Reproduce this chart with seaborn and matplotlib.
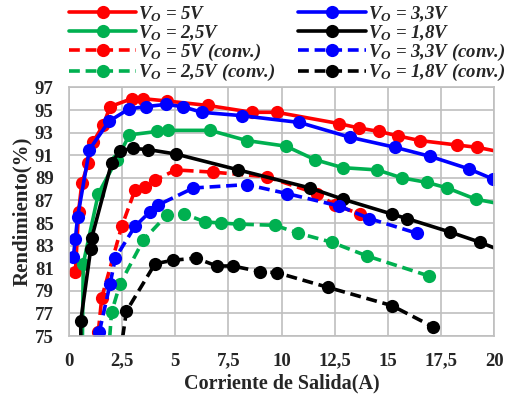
import matplotlib
matplotlib.use("Agg")
import matplotlib.pyplot as plt
from matplotlib.lines import Line2D
import seaborn as sns
import pandas as pd

# efficiency curves (current in A, efficiency in %)
x_5v = [0.3, 0.45, 0.6, 0.9, 1.14, 1.62, 1.93, 2.95, 3.5, 4.6, 6.55, 8.6, 9.77, 12.7, 13.66, 14.6, 15.5, 16.5, 18.27, 19.2, 20.0]
y_5v = [80.7, 86.0, 88.5, 90.3, 92.2, 93.7, 95.3, 96.0, 96.0, 95.8, 95.4, 94.8, 94.8, 93.8, 93.4, 93.1, 92.7, 92.3, 91.9, 91.7, 91.4]

x_33v = [0.2, 0.3, 0.4, 0.96, 1.88, 2.82, 3.62, 4.56, 5.35, 6.24, 8.13, 10.84, 13.2, 15.34, 16.99, 18.8, 19.94]
y_33v = [82.0, 83.6, 85.5, 91.5, 94.0, 95.1, 95.3, 95.5, 95.3, 94.8, 94.5, 93.9, 92.6, 91.7, 90.9, 89.8, 88.9]

x_25v = [0.6, 0.67, 1.38, 2.24, 2.84, 4.13, 4.64, 6.64, 8.36, 10.21, 11.58, 12.88, 14.5, 15.65, 16.83, 17.8, 19.15, 20.0]
y_25v = [70.0, 81.4, 87.6, 90.6, 92.8, 93.1, 93.2, 93.2, 92.3, 91.8, 90.6, 89.9, 89.7, 89.0, 88.6, 88.1, 87.1, 86.8]

x_18v = [0.58, 0.55, 1.02, 1.07, 2.0, 2.4, 3.0, 3.73, 5.04, 7.97, 11.34, 12.9, 15.18, 15.89, 17.93, 19.34, 20.0]
y_18v = [70.0, 76.3, 82.7, 83.7, 90.3, 91.4, 91.6, 91.5, 91.1, 89.7, 88.1, 87.1, 85.8, 85.4, 84.2, 83.3, 82.8]

x_5v_c = [1.38, 1.54, 2.48, 3.1, 3.58, 4.05, 5.03, 6.79, 9.3, 11.66, 12.5, 13.7]
y_5v_c = [75.4, 78.4, 84.7, 87.9, 88.2, 88.8, 89.7, 89.5, 89.1, 87.6, 86.6, 85.8]

x_33v_c = [1.43, 1.93, 2.18, 3.1, 3.81, 4.2, 5.85, 8.36, 10.27, 12.72, 14.13, 16.36]
y_33v_c = [75.4, 79.6, 81.9, 84.7, 86.0, 86.6, 88.1, 88.4, 87.6, 86.5, 85.4, 84.1]

x_25v_c = [1.8, 2.0, 2.4, 3.5, 4.6, 5.43, 6.4, 7.14, 8.01, 9.69, 10.79, 12.36, 14.0, 16.96]
y_25v_c = [72.0, 77.1, 79.6, 83.5, 85.7, 85.8, 85.1, 85.0, 84.9, 84.8, 84.1, 83.3, 82.1, 80.3]

x_18v_c = [2.3, 2.7, 4.05, 4.88, 5.97, 6.95, 7.7, 8.99, 9.8, 12.2, 15.18, 17.14]
y_18v_c = [72.0, 77.2, 81.4, 81.7, 81.9, 81.2, 81.2, 80.7, 80.6, 79.3, 77.7, 75.8]

x_ticks = [0, 2.5, 5, 7.5, 10, 12.5, 15, 17.5, 20]
x_tick_labels = ["0", "2,5", "5", "7,5", "10", "12,5", "15", "17,5", "20"]
y_ticks = list(range(75, 98, 2))

sns.set_style("white")
plt.rcParams["font.family"] = ["Liberation Serif", "DejaVu Serif"]
plt.rcParams["mathtext.fontset"] = "custom"
plt.rcParams["mathtext.it"] = "Liberation Serif:italic:bold"
plt.rcParams["mathtext.rm"] = "Liberation Serif:bold"

fig = plt.figure(figsize=(5.19, 4.01), dpi=100)
ax = fig.add_axes([0.133, 0.162, 0.819, 0.62])

LW = 2.6
MS = 9.5
DASH = (3, 1.6)

# (label, x, y, colour, dashed, hide last marker) - legend column order
series = [
    (r"$V_O$ = 5V", x_5v, y_5v, "#FF0000", False, True),
    (r"$V_O$ = 2,5V", x_25v, y_25v, "#00B050", False, True),
    (r"$V_O$ = 5V (conv.)", x_5v_c, y_5v_c, "#FF0000", True, False),
    (r"$V_O$ = 2,5V (conv.)", x_25v_c, y_25v_c, "#00B050", True, False),
    (r"$V_O$ = 3,3V", x_33v, y_33v, "#0000FF", False, False),
    (r"$V_O$ = 1,8V", x_18v, y_18v, "#000000", False, True),
    (r"$V_O$ = 3,3V (conv.)", x_33v_c, y_33v_c, "#0000FF", True, False),
    (r"$V_O$ = 1,8V (conv.)", x_18v_c, y_18v_c, "#000000", True, False),
]

handles = []
labels = []
for label, xs, ys, col, dashed, skip_end in series:
    df = pd.DataFrame({"x": xs, "y": ys})
    n = len(df) - 1 if skip_end else len(df)
    kw = dict(dashes=DASH) if dashed else {}
    sns.lineplot(data=df, x="x", y="y", ax=ax, sort=False, estimator=None,
                 color=col, linewidth=LW, marker="o", markersize=MS,
                 markeredgewidth=0, markevery=list(range(n)), **kw)
    # legend handle: line with a single marker in the middle
    h = Line2D([0, 1, 2], [0, 0, 0], color=col, linewidth=LW, marker="o",
               markersize=MS, markeredgewidth=0, markevery=[1],
               linestyle=(0, DASH) if dashed else "-")
    handles.append(h)
    labels.append(label)

ax.set_xlim(0, 20)
ax.set_ylim(75, 97)
ax.set_xticks(x_ticks)
ax.set_xticklabels(x_tick_labels)
ax.set_yticks(y_ticks)
ax.tick_params(length=0, labelsize=13.5)
ax.tick_params(axis="x", pad=12)
ax.tick_params(axis="y", pad=11)
for t in ax.get_xticklabels() + ax.get_yticklabels():
    t.set_fontweight("bold")
ax.grid(True, color="#BFBFBF", linewidth=1.2)
for s in ax.spines.values():
    s.set_color("#BFBFBF")
    s.set_linewidth(1.2)

ax.set_xlabel("Corriente de Salida(A)", fontsize=14.5, fontweight="bold", labelpad=3)
ax.set_ylabel("Rendimiento(%)", fontsize=15, fontweight="bold", labelpad=2)

fig.legend(handles, labels, ncol=2, loc="upper center", bbox_to_anchor=(0.553, 1.032),
           frameon=False, handlelength=3.6, labelspacing=-0.04, columnspacing=1.2,
           handletextpad=0.1, prop={"size": 13.5, "weight": "bold", "style": "italic"})

fig.savefig("out.png", dpi=100)
